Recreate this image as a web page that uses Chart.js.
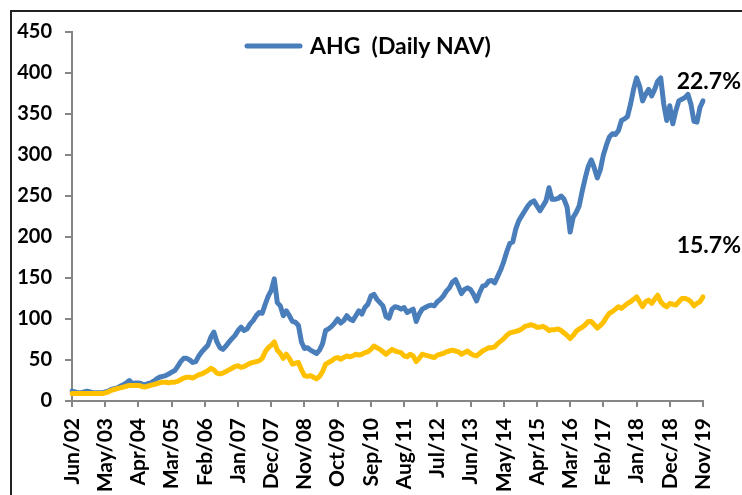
<!DOCTYPE html>
<html>
<head>
<meta charset="utf-8">
<script src="https://cdn.jsdelivr.net/npm/chart.js@4.4.0/dist/chart.umd.min.js"></script>
<style>
  html, body { margin: 0; padding: 0; background: #fff; overflow: hidden; }
  #frame { position: absolute; left: 10px; top: 10px; width: 800px; height: 560px;
           border-left: 2px solid #222; border-top: 2px solid #222; }
  #wrap { position: absolute; left: 0; top: 0; }
</style>
</head>
<body>
<div id="frame"></div>
<div id="wrap"><canvas id="navChart" width="760" height="560"></canvas></div>
<script>
// monthly values, Jun/02 .. Nov/19
const ahgNav = [
  12, 11, 10, 10, 11, 12, 11, 10, 10, 10, 10, 11,
  12, 14, 15, 16, 18, 20, 22, 25, 21, 22, 22, 21,
  19, 21, 22, 24, 27, 29, 30, 31, 33, 35, 37, 42,
  48, 52, 52, 50, 47, 48, 55, 60, 64, 68, 78, 84,
  72, 65, 63, 67, 72, 76, 80, 86, 90, 86, 88, 94,
  98, 104, 108, 107, 118, 128, 135, 149, 120, 116, 104, 110,
  104, 97, 96, 92, 72, 64, 65, 62, 60, 58, 62, 70,
  86, 88, 91, 95, 100, 95, 98, 104, 100, 98, 104, 110,
  106, 114, 118, 128, 130, 124, 120, 116, 103, 101, 112, 115,
  114, 112, 114, 108, 110, 112, 97, 106, 112, 114, 116, 117,
  116, 121, 124, 128, 134, 138, 145, 148, 140, 131, 136, 138,
  136, 130, 122, 132, 140, 141, 146, 147, 144, 152, 160, 170,
  182, 192, 194, 210, 220, 226, 232, 238, 242, 244, 238, 232,
  238, 244, 260, 246, 246, 247, 250, 246, 236, 206, 224, 230,
  238, 256, 272, 286, 294, 284, 272, 282, 300, 312, 322, 326,
  325, 330, 342, 344, 347, 362, 380, 394, 384, 366, 374, 380,
  372, 380, 390, 394, 362, 342, 360, 338, 354, 366, 368, 370,
  374, 362, 341, 340, 358, 366
];
const benchmark = [
  9, 9, 9, 9, 9, 9, 9, 9, 9, 9, 9, 10,
  11, 13, 14, 15, 16, 17, 18, 19, 19, 19, 19, 18,
  17, 18, 19, 20, 21, 22, 23, 23, 22, 23, 23, 24,
  26, 28, 29, 29, 28, 30, 32, 33, 35, 37, 40, 38,
  34, 33, 34, 36, 38, 40, 42, 43, 41, 42, 44, 46,
  47, 48, 49, 52, 60, 65, 68, 72, 62, 58, 52, 57,
  52, 45, 46, 47, 38, 31, 30, 31, 29, 27, 30, 36,
  45, 47, 49, 52, 53, 51, 53, 55, 54, 55, 57, 56,
  57, 59, 60, 63, 67, 65, 63, 60, 57, 60, 63, 61,
  60, 59, 55, 54, 57, 55, 48, 52, 57, 56, 55, 54,
  53, 56, 57, 58, 60, 61, 62, 61, 60, 57, 59, 61,
  58, 56, 55, 58, 61, 63, 65, 65, 66, 70, 73, 76,
  80, 83, 84, 85, 86, 88, 91, 92, 93, 92, 90, 90,
  91, 89, 86, 87, 87, 88, 86, 83, 80, 76, 80, 85,
  88, 90, 93, 97, 97, 93, 89, 92, 96, 102, 107, 109,
  112, 115, 113, 116, 119, 121, 124, 127, 121, 115, 121, 123,
  119, 124, 129, 121, 117, 115, 119, 118, 117, 121, 125, 125,
  124, 121, 116, 119, 121, 127
];
const tickLabels = [
  "Jun/02", "May/03", "Apr/04", "Mar/05", "Feb/06", "Jan/07", "Dec/07",
  "Nov/08", "Oct/09", "Sep/10", "Aug/11", "Jul/12", "Jun/13", "May/14",
  "Apr/15", "Mar/16", "Feb/17", "Jan/18", "Dec/18", "Nov/19"
];
const endReturns = ["22.7%", "15.7%"];
const seriesNames = ["AHG  (Daily NAV)", "Benchmark"];

const monthNames = ["Jan","Feb","Mar","Apr","May","Jun","Jul","Aug","Sep","Oct","Nov","Dec"];
const months = ahgNav.map((v, i) => {
  const m = 5 + i;
  return monthNames[m % 12] + "/" + String(2002 + Math.floor(m / 12)).slice(2);
});

const AXIS = "#868686";

// legend drawn inside the plot, only the AHG series
const innerLegend = {
  id: "innerLegend",
  afterDraw(chart) {
    const ctx = chart.ctx;
    const ds = chart.data.datasets[0];
    const x0 = chart.chartArea.left + 175;
    const y0 = 46;
    ctx.save();
    ctx.strokeStyle = ds.borderColor;
    ctx.lineWidth = 5;
    ctx.lineCap = "round";
    ctx.beginPath();
    ctx.moveTo(x0, y0);
    ctx.lineTo(x0 + 53, y0);
    ctx.stroke();
    ctx.fillStyle = "#000";
    ctx.font = "bold 23px Lato";
    ctx.textBaseline = "middle";
    ctx.fillText(ds.label, x0 + 63, y0 + 1);
    ctx.restore();
  }
};

// return labels at the right end of each line
const endLabels = {
  id: "endLabels",
  afterDatasetsDraw(chart) {
    const ctx = chart.ctx;
    const xs = chart.scales.x, ys = chart.scales.y;
    const right = xs.getPixelForValue(ahgNav.length - 1) + 38;
    ctx.save();
    ctx.fillStyle = "#000";
    ctx.font = "bold 23px Lato";
    ctx.textAlign = "right";
    ctx.textBaseline = "middle";
    ctx.fillText(endReturns[0], right, ys.getPixelForValue(389));
    ctx.fillText(endReturns[1], right, ys.getPixelForValue(190));
    ctx.restore();
  }
};

new Chart(document.getElementById("navChart"), {
  type: "line",
  data: {
    labels: months,
    datasets: [
      {
        label: seriesNames[0],
        data: ahgNav,
        borderColor: "#4A7EBB",
        borderWidth: 5,
        pointRadius: 0,
        tension: 0,
        borderJoinStyle: "round",
        borderCapStyle: "round",
        order: 2
      },
      {
        label: seriesNames[1],
        data: benchmark,
        borderColor: "#FFC000",
        borderWidth: 5,
        pointRadius: 0,
        tension: 0,
        borderJoinStyle: "round",
        borderCapStyle: "round",
        order: 1
      }
    ]
  },
  options: {
    responsive: false,
    animation: false,
    layout: { padding: { left: 10, right: 57, top: 32, bottom: 0 } },
    plugins: {
      legend: { display: false },
      tooltip: { enabled: false }
    },
    scales: {
      x: {
        type: "category",
        offset: false,
        afterFit(scale) { scale.height = 159; },
        grid: { drawOnChartArea: false, drawTicks: true, tickLength: 6, color: AXIS, lineWidth: 2 },
        border: { color: AXIS, width: 2 },
        ticks: {
          autoSkip: false,
          maxRotation: 90,
          minRotation: 90,
          padding: 11,
          color: "#000",
          font: { family: "Lato", size: 21, weight: "bold" },
          callback: (val, i) => (i % 11 === 0 ? tickLabels[i / 11] : null)
        }
      },
      y: {
        min: 0,
        max: 450,
        afterFit(scale) { scale.width = 62; },
        grid: { drawOnChartArea: false, drawTicks: true, tickLength: 7, color: AXIS, lineWidth: 2 },
        border: { color: AXIS, width: 2 },
        ticks: { stepSize: 50, padding: 13, color: "#000", font: { family: "Lato", size: 20, weight: "bold" } }
      }
    }
  },
  plugins: [innerLegend, endLabels]
});
</script>
</body>
</html>
